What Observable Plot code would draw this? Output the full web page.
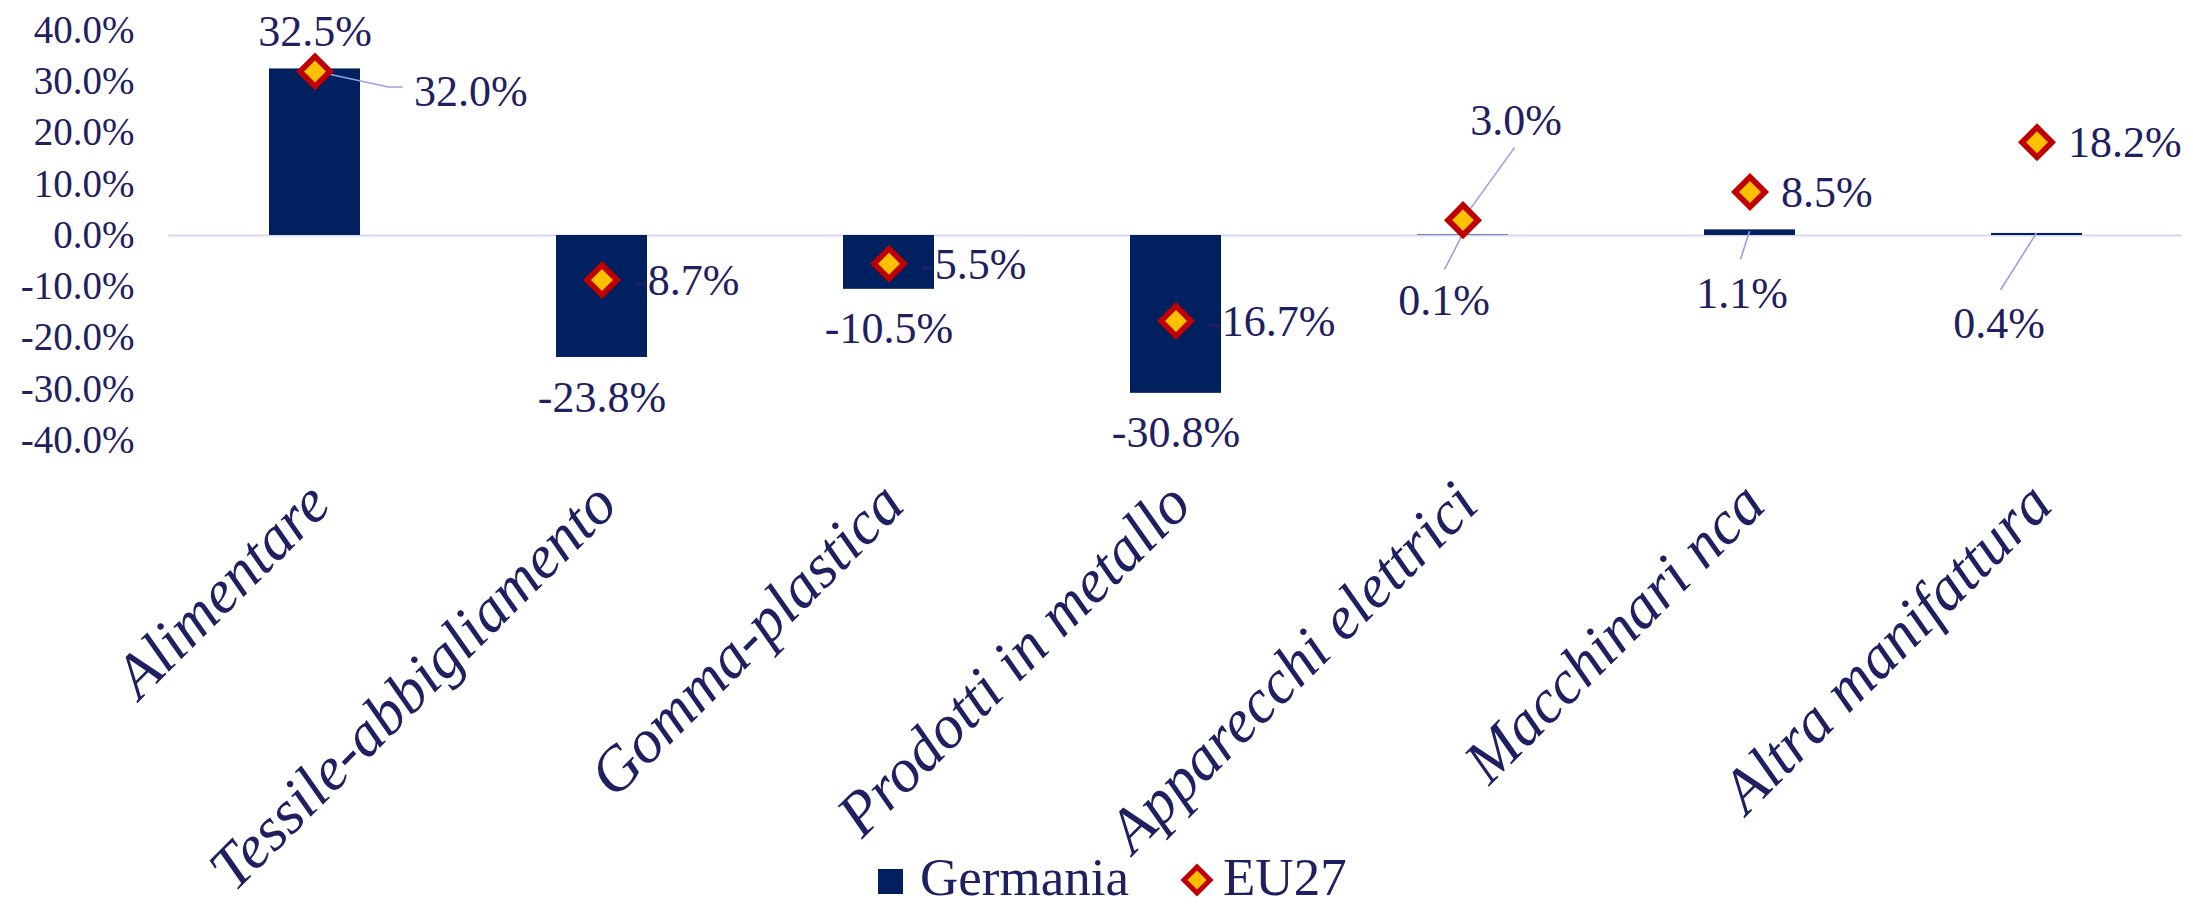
<!DOCTYPE html>
<html>
<head>
<meta charset="utf-8">
<script src="https://cdn.jsdelivr.net/npm/d3@7"></script>
<script src="https://cdn.jsdelivr.net/npm/@observablehq/plot@0.6"></script>
<style>
  html, body { margin: 0; padding: 0; background: #ffffff; }
  #wrap { position: relative; width: 2193px; height: 908px; overflow: hidden; }
  .lg { position: absolute; font-family: "Liberation Serif", serif; font-size: 53px; line-height: 44px; height: 44px; color: #1F2061; white-space: nowrap; }
</style>
</head>
<body>
<div id="wrap"></div>
<script>
// ---- data ----
const categories = ["Alimentare", "Tessile-abbigliamento", "Gomma-plastica", "Prodotti in metallo", "Apparecchi elettrici", "Macchinari nca", "Altra manifattura"];
const germania = [32.5, -23.8, -10.5, -30.8, 0.1, 1.1, 0.4];
const eu27 = [32.0, -8.7, -5.5, -16.7, 3.0, 8.5, 18.2];
const yTicks = [-40, -30, -20, -10, 0, 10, 20, 30, 40];
const seriesNames = ["Germania", "EU27"];

// ---- styles / layout ----
const NAVY = "#002060";
const TEXT = "#1F2061";
const GOLD = "#FFC000";
const RED = "#C00000";
const ZERO = "#D6D6F2";
const LEADER = "#97A0E4";
const FONT = "Liberation Serif, serif";
const fmt = v => v.toFixed(1) + "%";

// label nudges in pixels (manually placed labels in original chart)
const germNudge = {
  "Apparecchi elettrici": {dx: -19, dy: 66, path: [[0, 0], [-18, 35]]},
  "Macchinari nca": {dx: -8, dy: 64, path: [[0, 2], [-9, 30]]},
  "Altra manifattura": {dx: -38, dy: 90, path: [[0, 0], [-36, 57]]}
};
const euNudge = {
  "Alimentare": {dx: 99, dy: 20, anchor: "start", path: [[0, 0], [74, 16], [88, 16]]},
  "Apparecchi elettrici": {dx: 53, dy: -99, anchor: "middle", path: [[0, 0], [52, -72]]}
};

const germ = categories.map((c, i) => ({cat: c, value: germania[i], series: seriesNames[0]}));
const eu = categories.map((c, i) => ({cat: c, value: eu27[i], series: seriesNames[1]}));

const leaderMark = (index, scales) => {
  const X = scales.x, Y = scales.y;
  const bw = X && typeof X.bandwidth === "function" ? X.bandwidth() : 0;
  const g = d3.create("svg:g").attr("fill", "none").attr("stroke", LEADER).attr("stroke-width", 1.6);
  const add = (rows, nudges) => {
    for (const d of rows) {
      const n = nudges[d.cat];
      if (!n) continue;
      const cx = X(d.cat) + bw / 2, cy = Y(d.value);
      g.append("path").attr("d", "M" + n.path.map(([a, b]) => `${cx + a},${cy + b}`).join("L"));
    }
  };
  add(germ, germNudge);
  add(eu, euNudge);
  return g.node();
};

const textBase = {fontFamily: FONT, fontSize: 44, fill: TEXT};

const marks = [
  Plot.ruleY([0], {stroke: ZERO, strokeWidth: 2}),
  Plot.barY(germ, {x: "cat", y: "value", fill: NAVY}),
  leaderMark,
  Plot.dot(eu, {x: "cat", y: "value", symbol: "diamond2", r: 13.5, fill: GOLD, stroke: RED, strokeWidth: 5.7}),
  // Germania labels (default: outside end)
  Plot.text(germ.filter(d => !germNudge[d.cat] && d.value >= 0), {x: "cat", y: "value", text: d => fmt(d.value), dy: -37, ...textBase}),
  Plot.text(germ.filter(d => !germNudge[d.cat] && d.value < 0), {x: "cat", y: "value", text: d => fmt(d.value), dy: 40, ...textBase}),
  // EU27 labels (default: right)
  Plot.text(eu.filter(d => !euNudge[d.cat]), {x: "cat", y: "value", text: d => fmt(d.value), dx: 31, dy: 1, textAnchor: "start", ...textBase}),
  // category labels
  Plot.text(categories, {x: d => d, frameAnchor: "bottom", text: d => d, rotate: -45, textAnchor: "end", lineAnchor: "bottom",
    dx: 18, dy: 67, fontFamily: FONT, fontSize: 62, fontStyle: "italic", fill: TEXT})
];
for (const d of germ) {
  const n = germNudge[d.cat];
  if (n) marks.push(Plot.text([d], {x: "cat", y: "value", text: r => fmt(r.value), dx: n.dx, dy: n.dy, ...textBase}));
}
for (const d of eu) {
  const n = euNudge[d.cat];
  if (n) marks.push(Plot.text([d], {x: "cat", y: "value", text: r => fmt(r.value), dx: n.dx, dy: n.dy, textAnchor: n.anchor, ...textBase}));
}

const chart = Plot.plot({
  width: 2193,
  height: 908,
  marginTop: 30,
  marginBottom: 468,
  marginLeft: 168,
  marginRight: 11,
  style: {fontFamily: FONT, fontSize: "39px", color: TEXT, background: "#ffffff"},
  x: {domain: categories, paddingInner: 0.684, paddingOuter: 0.342, axis: null},
  y: {domain: [-40, 40], ticks: yTicks, tickFormat: fmt, tickSize: 0, tickPadding: 34, label: null},
  marks
});
const wrap = document.getElementById("wrap");
wrap.appendChild(chart);

// ---- legend (at the bottom, over the SVG's empty lower strip) ----
const lg = document.createElement("div");
lg.style.cssText = "position:absolute;left:0;top:850px;width:2193px;height:58px;";
lg.innerHTML = `
  <div style="position:absolute;left:878px;top:19px;width:25px;height:25px;background:${NAVY}"></div>
  <span class="lg" style="left:920px;top:5px;">${seriesNames[0]}</span>
  <svg style="position:absolute;left:1179px;top:12px;" width="36" height="36" viewBox="-18 -18 36 36">
    <path d="M0,-13L13,0L0,13L-13,0Z" fill="${GOLD}" stroke="${RED}" stroke-width="5"/>
  </svg>
  <span class="lg" style="left:1223px;top:5px;">${seriesNames[1]}</span>`;
wrap.appendChild(lg);
</script>
</body>
</html>
